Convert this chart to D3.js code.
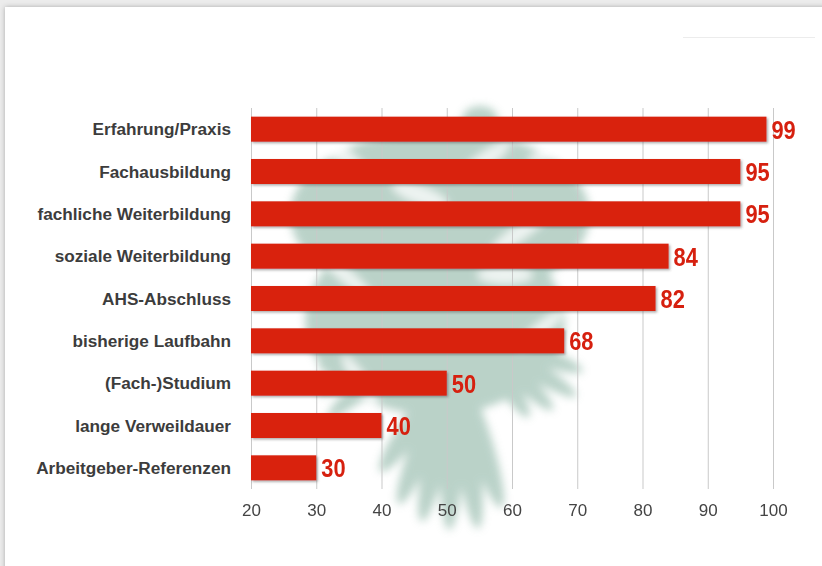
<!DOCTYPE html>
<html>
<head>
<meta charset="utf-8">
<script src="https://cdn.jsdelivr.net/npm/d3@7/dist/d3.min.js"></script>
<style>
  html, body { margin: 0; padding: 0; background: #ffffff; }
  svg { display: block; }
</style>
</head>
<body>
<svg id="chart" width="822" height="566"></svg>
<script>
// Survey results: which factors count for a career, share in percent
const categories = [
  "Erfahrung/Praxis",
  "Fachausbildung",
  "fachliche Weiterbildung",
  "soziale Weiterbildung",
  "AHS-Abschluss",
  "bisherige Laufbahn",
  "(Fach-)Studium",
  "lange Verweildauer",
  "Arbeitgeber-Referenzen"
];
const values = [99, 95, 95, 84, 82, 68, 50, 40, 30];
const tickValues = [20, 30, 40, 50, 60, 70, 80, 90, 100];

const svg = d3.select("#chart");
const W = 822, H = 566;

const defs = svg.append("defs");

// soft shadow around the white card
const cardShadow = defs.append("filter").attr("id", "cardShadow")
  .attr("x", "-5%").attr("y", "-5%").attr("width", "110%").attr("height", "110%");
cardShadow.append("feDropShadow")
  .attr("dx", 0).attr("dy", 0).attr("stdDeviation", 2.5)
  .attr("flood-color", "#000").attr("flood-opacity", 0.28);

// drop shadow under the bars
const barShadow = defs.append("filter").attr("id", "barShadow")
  .attr("x", "-5%").attr("y", "-30%").attr("width", "110%").attr("height", "170%");
barShadow.append("feDropShadow")
  .attr("dx", 1.5).attr("dy", 1.5).attr("stdDeviation", 1.2)
  .attr("flood-color", "#444").attr("flood-opacity", 0.45);

// blur for the background emblem
const soft = defs.append("filter").attr("id", "soft")
  .attr("x", "-20%").attr("y", "-20%").attr("width", "140%").attr("height", "140%");
soft.append("feGaussianBlur").attr("stdDeviation", 4);

// page and card
svg.append("rect").attr("width", W).attr("height", H).attr("fill", "#ececec");
svg.append("rect")
  .attr("x", 5).attr("y", 7).attr("width", W + 20).attr("height", H + 20)
  .attr("fill", "#ffffff").attr("filter", "url(#cardShadow)");

// faint rule near the top right corner
svg.append("line")
  .attr("x1", 683).attr("x2", 815).attr("y1", 37.5).attr("y2", 37.5)
  .attr("stroke", "#ececec").attr("stroke-width", 1);

// scales
const x = d3.scaleLinear().domain([20, 100]).range([251, 773]);
const y = d3.scaleBand().domain(categories).range([108, 489])
  .paddingInner(0.409).paddingOuter(0.2045);

// background emblem: a pale, blurred eagle behind the bars
const emblem = svg.append("g").attr("filter", "url(#soft)").attr("opacity", 0.8);
const ink = "#a9c7bb";

const blob = (cx, cy, rx, ry, rot, fill, op) => {
  emblem.append("ellipse")
    .attr("cx", 0).attr("cy", 0).attr("rx", rx).attr("ry", ry)
    .attr("transform", `translate(${cx},${cy}) rotate(${rot})`)
    .attr("fill", fill).attr("opacity", op);
};
const feather = (ox, oy, angle, len, wid) => {
  emblem.append("ellipse")
    .attr("cx", len / 2).attr("cy", 0).attr("rx", len / 2).attr("ry", wid / 2)
    .attr("transform", `translate(${ox},${oy}) rotate(${angle})`)
    .attr("fill", ink);
};

// head, wings and body
blob(480, 120, 18, 14, 0, ink, 1);
blob(470, 150, 24, 30, 0, ink, 1);
blob(440, 215, 150, 85, 0, ink, 1);
blob(435, 320, 130, 95, 0, ink, 1);
// tail feathers
[[72, 150], [82, 165], [92, 165], [102, 160], [112, 150], [125, 130]]
  .forEach(([a, l]) => feather(455, 365, a, l, 24));
// lower right fan
[[20, 120], [32, 125], [44, 115], [56, 105]]
  .forEach(([a, l]) => feather(470, 330, a, l, 20));
// lower left fan
[[140, 120], [152, 115], [164, 105]]
  .forEach(([a, l]) => feather(420, 340, a, l, 20));

// pale streaks between the feathers
[[335, 150, 40, 8, 35], [485, 160, 30, 8, -35], [560, 150, 35, 7, -20],
 [420, 195, 30, 9, 20], [520, 232, 35, 8, -35], [505, 275, 28, 9, 0],
 [345, 275, 35, 7, 40], [540, 330, 30, 7, -40], [360, 380, 30, 7, 55]]
  .forEach(([cx, cy, rx, ry, r]) => blob(cx, cy, rx, ry, r, "#ffffff", 0.75));

// vertical grid lines
svg.append("g").selectAll("line")
  .data(tickValues)
  .join("line")
  .attr("x1", d => x(d) + 0.5).attr("x2", d => x(d) + 0.5)
  .attr("y1", 108).attr("y2", 489)
  .attr("stroke", "#c9c9c9").attr("stroke-width", 1);

// axis labels
const axis = svg.append("g")
  .attr("transform", "translate(0,489)")
  .call(d3.axisBottom(x).tickValues(tickValues).tickSize(0).tickPadding(15));
axis.select(".domain").remove();
axis.selectAll("text")
  .attr("font-family", "'Liberation Sans', Arial, sans-serif")
  .attr("font-size", 17)
  .attr("fill", "#444444");

// bars
svg.append("g").attr("filter", "url(#barShadow)")
  .selectAll("rect")
  .data(values)
  .join("rect")
  .attr("x", x(20))
  .attr("y", (d, i) => y(categories[i]))
  .attr("width", d => x(d) - x(20))
  .attr("height", y.bandwidth())
  .attr("fill", "#d9200f");

// category labels
svg.append("g").selectAll("text")
  .data(categories)
  .join("text")
  .attr("x", 231)
  .attr("y", d => y(d) + y.bandwidth() / 2)
  .attr("dy", "0.36em")
  .attr("text-anchor", "end")
  .attr("font-family", "'Liberation Sans', Arial, sans-serif")
  .attr("font-weight", "bold")
  .attr("font-size", 17.2)
  .attr("fill", "#3c3c3c")
  .text(d => d);

// value labels, set in a condensed bold
svg.append("g").selectAll("text")
  .data(values)
  .join("text")
  .attr("transform", (d, i) =>
    `translate(${x(d) + 5},${y(categories[i]) + y.bandwidth() / 2}) scale(0.84,1)`)
  .attr("dy", "0.36em")
  .attr("font-family", "'Liberation Sans', Arial, sans-serif")
  .attr("font-weight", "bold")
  .attr("font-size", 26)
  .attr("fill", "#d6200f")
  .text(d => d);
</script>
</body>
</html>
